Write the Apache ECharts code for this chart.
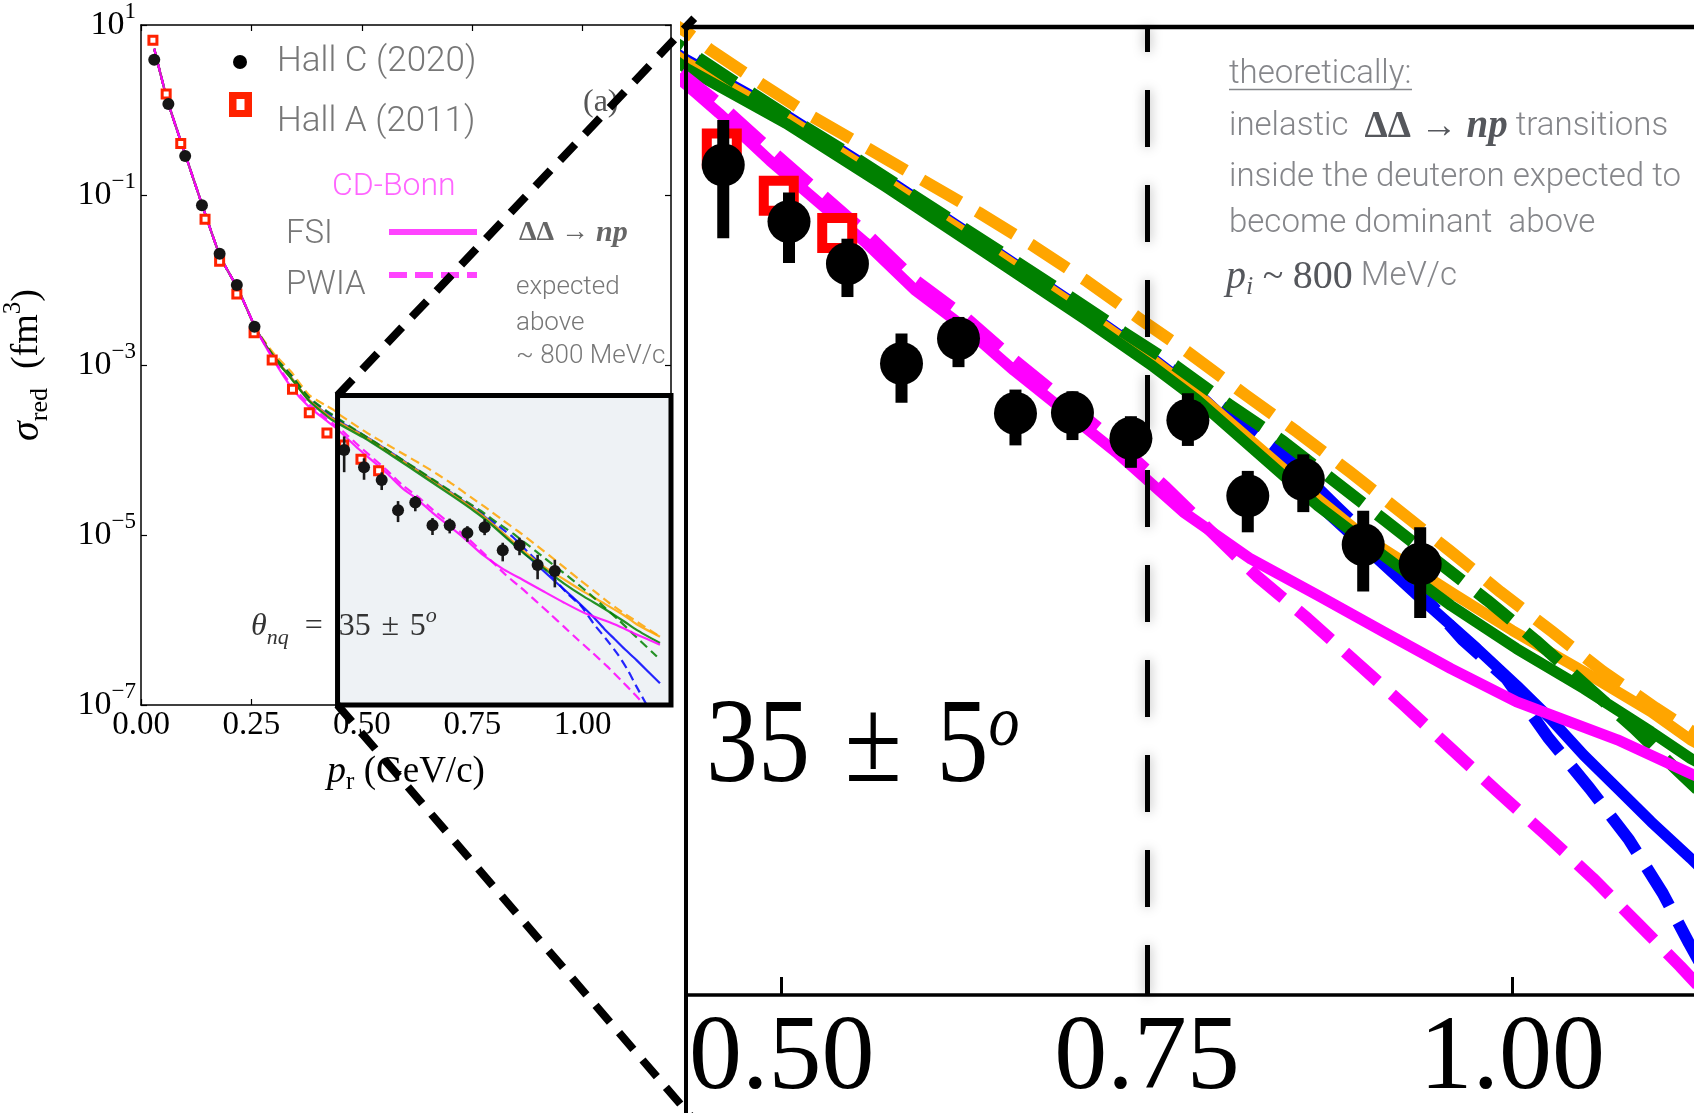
<!DOCTYPE html>
<html>
<head>
<meta charset="utf-8">
<script src="https://cdn.jsdelivr.net/npm/echarts@6/dist/echarts.min.js"></script>
<style>html,body{margin:0;padding:0;background:#fff;}#c{width:1694px;height:1113px;}</style>
</head>
<body>
<div id="c"></div>
<script>
// ---------------- DATA (sigma_red stored as log10 of fm^3 values) ----------------
// shared low-momentum part of all calculations
const pShared   = [0.03, 0.06, 0.10, 0.14, 0.18, 0.22, 0.26];
const logShared = [0.72, 0.11, -0.52, -1.14, -1.73, -2.11, -2.57];

// CD-Bonn FSI (magenta solid)
const pFsiCDB   = [0.30,0.34,0.38,0.42,0.435,0.457,0.492,0.557,0.591,0.626,0.659,0.693,0.729,0.775,0.821,0.867,0.912,0.958,1.003,1.072,1.122,1.175];
const logFsiCDB = [-2.94,-3.26,-3.49,-3.655,-3.715,-3.815,-3.985,-4.275,-4.445,-4.583,-4.733,-4.875,-5.025,-5.238,-5.405,-5.535,-5.665,-5.796,-5.915,-6.05,-6.17,-6.29];
// CD-Bonn PWIA (magenta dashed)
const pPwiaCDB   = [0.30,0.34,0.38,0.42,0.435,0.457,0.492,0.557,0.591,0.626,0.659,0.693,0.729,0.763,0.826,0.86,0.893,0.926,0.958,0.99,1.023,1.055,1.087,1.115,1.135];
const logPwiaCDB = [-2.93,-3.23,-3.46,-3.63,-3.69,-3.78,-3.945,-4.24,-4.41,-4.545,-4.695,-4.838,-4.99,-5.15,-5.47,-5.618,-5.772,-5.927,-6.081,-6.235,-6.389,-6.543,-6.71,-6.858,-6.97];
// blue solid / dashed
const pFsiB   = [0.30,0.34,0.38,0.42,0.435,0.503,0.571,0.640,0.708,0.754,0.784,0.821,0.878,0.935,0.976,1.003,1.026,1.049,1.072,1.095,1.122,1.175];
const logFsiB = [-2.90,-3.15,-3.41,-3.575,-3.625,-3.822,-4.047,-4.285,-4.522,-4.69,-4.81,-4.99,-5.262,-5.535,-5.725,-5.856,-5.974,-6.105,-6.223,-6.342,-6.472,-6.745];
const pPwiaB   = [0.30,0.34,0.38,0.42,0.435,0.474,0.511,0.549,0.586,0.623,0.66,0.697,0.734,0.77,0.806,0.843,0.88,0.916,0.966,0.996,1.025,1.053,1.08,1.103,1.121,1.145];
const logPwiaB = [-2.89,-3.12,-3.39,-3.55,-3.60,-3.74,-3.862,-3.984,-4.11,-4.235,-4.36,-4.485,-4.613,-4.74,-4.88,-5.03,-5.22,-5.40,-5.693,-5.832,-6.045,-6.223,-6.407,-6.597,-6.775,-7.0];
// orange solid / dashed
const pFsiO   = [0.30,0.34,0.38,0.42,0.435,0.503,0.571,0.640,0.708,0.754,0.784,0.867,0.90,0.96,1.00,1.05,1.095,1.122,1.175];
const logFsiO = [-2.90,-3.15,-3.41,-3.58,-3.635,-3.83,-4.055,-4.29,-4.527,-4.695,-4.815,-5.19,-5.33,-5.53,-5.66,-5.81,-5.95,-6.05,-6.196];
const pPwiaO   = [0.30,0.34,0.38,0.42,0.435,0.451,0.484,0.521,0.56,0.597,0.635,0.672,0.709,0.745,0.777,0.818,0.853,0.889,0.957,0.992,1.027,1.062,1.098,1.175];
const logPwiaO = [-2.86,-3.08,-3.35,-3.48,-3.526,-3.589,-3.704,-3.828,-3.944,-4.056,-4.170,-4.288,-4.415,-4.549,-4.664,-4.822,-4.953,-5.095,-5.375,-5.523,-5.663,-5.806,-5.936,-6.196];
// green solid / dashed
const pFsiG   = [0.30,0.34,0.38,0.42,0.435,0.503,0.571,0.640,0.708,0.754,0.784,0.867,0.912,0.958,1.003,1.049,1.095,1.122,1.175];
const logFsiG = [-2.91,-3.16,-3.42,-3.60,-3.656,-3.852,-4.077,-4.315,-4.552,-4.718,-4.836,-5.216,-5.393,-5.571,-5.725,-5.867,-6.021,-6.116,-6.27];
const pPwiaG   = [0.30,0.34,0.38,0.42,0.435,0.474,0.511,0.549,0.586,0.623,0.66,0.697,0.734,0.77,0.806,0.843,0.913,0.983,1.016,1.049,1.083,1.114,1.168];
const logPwiaG = [-2.89,-3.12,-3.38,-3.54,-3.591,-3.725,-3.849,-3.970,-4.095,-4.220,-4.344,-4.469,-4.597,-4.718,-4.854,-4.985,-5.268,-5.553,-5.695,-5.849,-6.007,-6.164,-6.43];

// Hall C (2020)
const hallCP     = [0.03,0.062,0.10,0.138,0.178,0.217,0.257,0.46,0.505,0.545,0.582,0.621,0.66,0.699,0.739,0.778,0.819,0.857,0.898,0.937];
const hallCLog   = [0.59,0.07,-0.54,-1.12,-1.69,-2.06,-2.55,-4.0,-4.202,-4.352,-4.708,-4.619,-4.886,-4.884,-4.975,-4.91,-5.18,-5.121,-5.354,-5.423];
const hallCErrLo = [null,null,null,null,null,null,null,-4.261,-4.350,-4.471,-4.848,-4.721,-5.0,-4.981,-5.080,-5.002,-5.31,-5.238,-5.521,-5.616];
const hallCErrHi = [null,null,null,null,null,null,null,-3.840,-4.098,-4.263,-4.601,-4.542,-4.801,-4.807,-4.896,-4.814,-5.091,-5.032,-5.233,-5.292];
// Hall A (2011)
const hallAP   = [0.027,0.057,0.09,0.145,0.178,0.217,0.256,0.297,0.343,0.381,0.421,0.459,0.498,0.538];
const hallALog = [0.82,0.188,-0.395,-1.284,-1.778,-2.165,-2.62,-2.94,-3.286,-3.563,-3.80,-3.941,-4.11,-4.243];

// axes / tick labels
const mainXTicks  = [0, 0.25, 0.5, 0.75, 1.0];
const mainYTicks  = [-7, -5, -3, -1, 1];
const insetXTicks = [0.5, 0.75, 1.0];
const mainXRange  = [0, 1.2];
const mainYRange  = [-7, 1];
const zoomBox     = [0.445, -3.36, 1.2, -7];   // x0, yTop, x1, yBottom (main axes)
const insetXRange = [0.4345, 1.1244];
const insetYRange = [-6.96, -3.508];
const markP       = 0.75;

// ---------------- CHART ----------------
const SERIF = "'Liberation Serif','DejaVu Serif',serif";
const SANS  = "Roboto,'Open Sans',sans-serif";
const C = {mag:'#ff00ff', blue:'#0000ff', green:'#008000', orange:'#ffa500'};

const chart = echarts.init(document.getElementById('c'), null, {renderer:'canvas', width:1694, height:1113});

function curveData(ps, ls) {
  return pShared.map((p,i)=>[p, logShared[i]]).concat(ps.map((p,i)=>[p, ls[i]]));
}
const curves = [
  ['blue FSI', pFsiB, logFsiB, C.blue, false],
  ['blue PWIA', pPwiaB, logPwiaB, C.blue, true],
  ['orange FSI', pFsiO, logFsiO, C.orange, false],
  ['orange PWIA', pPwiaO, logPwiaO, C.orange, true],
  ['green FSI', pFsiG, logFsiG, C.green, false],
  ['green PWIA', pPwiaG, logPwiaG, C.green, true],
  ['CD-Bonn FSI', pFsiCDB, logFsiCDB, C.mag, false],
  ['CD-Bonn PWIA', pPwiaCDB, logPwiaCDB, C.mag, true]
];
function curveSeries(c, inset) {
  return {
    type:'line', name:c[0], xAxisIndex: inset?2:0, yAxisIndex: inset?2:0,
    data: curveData(c[1], c[2]), showSymbol:false, symbol:'none', silent:true, clip:true,
    smooth: inset ? false : 0.2, z: 2,
    lineStyle:{color:c[3], opacity: inset?1:0.85, join:'round',
      width: inset ? (c[4]?12:11) : 2.2,
      type: c[4] ? (inset?[44,19]:[9,5]) : 'solid'}
  };
}
const hallC = hallCP.map((p,i)=>[p, hallCLog[i]]);
const hallA = hallAP.map((p,i)=>[p, hallALog[i]]);
const hallCErr = hallCP.map((p,i)=>[p, hallCErrLo[i], hallCErrHi[i]]).filter(d=>d[1]!==null);

function errSeries(inset) {
  return {
    type:'custom', name:'Hall C (2020) err', xAxisIndex: inset?2:0, yAxisIndex: inset?2:0,
    data: hallCErr, encode:{x:0, y:[1,2]}, clip:true, silent:true, z: 5,
    renderItem:(params, api)=>{
      const a = api.coord([api.value(0), api.value(1)]);
      const b = api.coord([api.value(0), api.value(2)]);
      return {type:'line', shape:{x1:a[0], y1:a[1], x2:b[0], y2:b[1]},
              style:{stroke: inset?'#000':'#1a1a1a', lineWidth: inset?12:2.6}};
    }
  };
}
function boxSeries(part) {
  return {
    type:'custom', name:'zoom box '+part, xAxisIndex:0, yAxisIndex:0, silent:true,
    data:[zoomBox], encode:{x:[0,2], y:[1,3]}, clip:false, z: part==='fill'?1:20,
    renderItem:(params, api)=>{
      const a = api.coord([api.value(0), api.value(1)]);
      const b = api.coord([api.value(2), api.value(3)]);
      const shape = {x:a[0], y:a[1], width:b[0]-a[0], height:b[1]-a[1]};
      return part==='fill'
        ? {type:'rect', shape, style:{fill:'#eef2f5'}}
        : {type:'rect', shape, style:{fill:'none', stroke:'#000', lineWidth:5}};
    }
  };
}

const supRich = {
  b:{fontFamily:SERIF, fontSize:34, color:'#000', lineHeight:50},
  s:{fontFamily:SERIF, fontSize:23, color:'#000', verticalAlign:'top', lineHeight:24}
};
const mainTickLine = {color:'#000', width:1.2};

const series = [boxSeries('fill')];
curves.forEach(c=>series.push(curveSeries(c,false)));
series.push({type:'scatter', name:'Hall A (2011)', xAxisIndex:0, yAxisIndex:0, data:hallA, symbol:'rect', symbolSize:8, z:4,
  itemStyle:{color:'#fff', borderColor:'#ff2200', borderWidth:3, opacity:1}, silent:true});
series.push(errSeries(false));
series.push({type:'scatter', name:'Hall C (2020)', xAxisIndex:0, yAxisIndex:0, data:hallC, symbol:'circle', symbolSize:12, z:6,
  itemStyle:{color:'#151515', opacity:1}, silent:true});
series.push(boxSeries('border'));
curves.forEach(c=>series.push(curveSeries(c,true)));
series.push({type:'scatter', name:'Hall A (2011)', xAxisIndex:2, yAxisIndex:2, data:hallA, symbol:'rect', symbolSize:30, z:4, clip:true,
  itemStyle:{color:'#fff', borderColor:'#ff0000', borderWidth:10, opacity:1}, silent:true,
  markLine:{silent:true, symbol:'none', animation:false, label:{show:false},
    lineStyle:{color:'#000', width:5, type:[57,38], dashOffset:7, shadowBlur:12, shadowColor:'rgba(0,0,0,0.35)'},
    data:[[{coord:[markP, insetYRange[0]]},{coord:[markP, insetYRange[1]]}]]}});
series.push(errSeries(true));
series.push({type:'scatter', name:'Hall C (2020)', xAxisIndex:2, yAxisIndex:2, data:hallC, symbol:'circle', symbolSize:43, z:6, clip:true,
  itemStyle:{color:'#000', opacity:1}, silent:true});

const option = {
  backgroundColor:'#fff',
  animation:false,
  grid:[
    {left:140, top:25, width:531, height:680},
    {left:686, top:27, right:0, height:970}
  ],
  xAxis:[
    {gridIndex:0, type:'value', min:mainXRange[0], max:mainXRange[1], position:'bottom',
     axisLine:{show:true, onZero:false, lineStyle:{color:'#000', width:1.5}},
     axisTick:{show:true, inside:true, length:6, customValues:mainXTicks, lineStyle:mainTickLine},
     axisLabel:{customValues:mainXTicks, formatter:v=>v.toFixed(2), fontFamily:SERIF, fontSize:33, color:'#000', margin:4},
     splitLine:{show:false},
     name:'{p|p}{r|r}{t| (GeV/c)}', nameLocation:'middle', nameGap:44,
     nameTextStyle:{rich:{
       p:{fontFamily:SERIF, fontStyle:'italic', fontSize:38, color:'#000', lineHeight:46},
       r:{fontFamily:SERIF, fontSize:25, color:'#000', verticalAlign:'bottom', lineHeight:28},
       t:{fontFamily:SERIF, fontSize:37, color:'#000', lineHeight:46}}}},
    {gridIndex:0, type:'value', min:mainXRange[0], max:mainXRange[1], position:'top',
     axisLine:{show:true, onZero:false, lineStyle:{color:'#000', width:1.5}},
     axisTick:{show:true, inside:true, length:6, customValues:mainXTicks, lineStyle:mainTickLine},
     axisLabel:{show:false}, splitLine:{show:false}},
    {gridIndex:1, type:'value', min:insetXRange[0], max:insetXRange[1], position:'bottom',
     axisLine:{show:true, onZero:false, lineStyle:{color:'#000', width:3.5}},
     axisTick:{show:true, inside:true, length:18, customValues:insetXTicks, lineStyle:{color:'#000', width:3}},
     axisLabel:{customValues:insetXTicks, formatter:v=>v.toFixed(2), fontFamily:SERIF, fontSize:106, color:'#000', margin:12},
     splitLine:{show:false}}
  ],
  yAxis:[
    {gridIndex:0, type:'value', min:mainYRange[0], max:mainYRange[1], position:'left',
     axisLine:{show:true, onZero:false, lineStyle:{color:'#000', width:1.5}},
     axisTick:{show:true, inside:true, length:6, customValues:mainYTicks, lineStyle:mainTickLine},
     axisLabel:{customValues:mainYTicks, margin:5, rich:supRich,
       formatter:v=>'{b|10}{s|'+(v<0?'\u2212':'')+Math.abs(v)+'}'},
     splitLine:{show:false},
     name:'{s|σ}{r|red}{p|  (fm}{e|3}{p|)}', nameLocation:'middle', nameGap:88, nameRotate:90,
     nameTextStyle:{rich:{
       s:{fontFamily:SERIF, fontStyle:'italic', fontSize:40, color:'#000', lineHeight:52},
       r:{fontFamily:SERIF, fontSize:26, color:'#000', verticalAlign:'bottom', lineHeight:30},
       p:{fontFamily:SERIF, fontSize:38, color:'#000', lineHeight:52},
       e:{fontFamily:SERIF, fontSize:25, color:'#000', verticalAlign:'top', lineHeight:26}}}},
    {gridIndex:0, type:'value', min:mainYRange[0], max:mainYRange[1], position:'right',
     axisLine:{show:true, onZero:false, lineStyle:{color:'#000', width:1.5}},
     axisTick:{show:true, inside:true, length:6, customValues:mainYTicks, lineStyle:mainTickLine},
     axisLabel:{show:false}, splitLine:{show:false}},
    {gridIndex:1, type:'value', min:insetYRange[0], max:insetYRange[1],
     axisLine:{show:false}, axisTick:{show:false}, axisLabel:{show:false}, splitLine:{show:false}}
  ],
  series
};
chart.setOption(option);

// ---------------- decorations (text & zoom connectors) ----------------
const b0 = chart.convertToPixel({gridIndex:0}, [zoomBox[0], zoomBox[1]]);
const b1 = chart.convertToPixel({gridIndex:0}, [zoomBox[0], zoomBox[3]]);
const iTL = chart.convertToPixel({gridIndex:1}, [insetXRange[0], insetYRange[1]]);
const H = 1113, W = 1694;
function extend(a, b, d) {
  const dx = b[0]-a[0], dy = b[1]-a[1], L = Math.hypot(dx, dy);
  return [b[0]+dx/L*d, b[1]+dy/L*d];
}
const up = extend(b0, iTL, 12);
const low = extend(b1, [iTL[0]+2, H], 12);

function T(x, y, text, size, fill, opts) {
  return Object.assign({type:'text', x, y, z:10, silent:true,
    style:{text, fontFamily:SANS, fontWeight:300, fontSize:size, fill, verticalAlign:'middle'}}, opts||{});
}
const mathRich = (sz, col) => ({
  d:{fontFamily:SERIF, fontWeight:'bold', fontSize:sz, fill:col, color:col},
  a:{fontFamily:SERIF, fontSize:sz, fill:col, color:col},
  m:{fontFamily:SERIF, fontStyle:'italic', fontWeight:'bold', fontSize:sz+2, fill:col, color:col}
});
const gray = '#777', agray = '#85868a', mgray = '#55575c';

const graphic = [
  // legend (left panel)
  {type:'circle', z:10, silent:true, shape:{cx:240, cy:62, r:7}, style:{fill:'#000'}},
  {type:'rect', z:10, silent:true, shape:{x:229, y:92, width:23, height:25}, style:{fill:'#ff2200'}},
  {type:'rect', z:11, silent:true, shape:{x:236.5, y:99, width:8, height:11}, style:{fill:'#fff'}},
  T(277, 62, 'Hall C (2020)', 35, gray),
  T(277, 122, 'Hall A (2011)', 35, gray),
  T(332, 187, 'CD-Bonn', 32, '#ff66ff'),
  T(286, 235, 'FSI', 33, gray),
  {type:'line', z:10, silent:true, shape:{x1:389, y1:232, x2:477, y2:232}, style:{stroke:'#ff44ff', lineWidth:6}},
  T(286, 286, 'PWIA', 33, gray),
  {type:'line', z:10, silent:true, shape:{x1:389, y1:275, x2:477, y2:275}, style:{stroke:'#ff44ff', lineWidth:6, lineDash:[18,8]}},
  {type:'text', x:519, y:233, z:10, silent:true, style:{text:'{d|ΔΔ}{a| → }{m|np}', rich:mathRich(28,'#666'), verticalAlign:'middle'}},
  T(516, 287, 'expected', 26, gray),
  T(516, 323, 'above', 26, gray),
  T(516, 356, '~ 800 MeV/c', 26, gray),
  {type:'text', x:583, y:103, z:10, silent:true, style:{text:'(a)', fontFamily:SERIF, fontSize:32, fill:'#555', verticalAlign:'middle'}},
  {type:'text', x:251, y:627, z:10, silent:true, style:{text:'{t|θ}{n|nq}{r|\u2002=\u200235\u2004±\u20045}{o|o}', verticalAlign:'middle',
    rich:{t:{fontFamily:SERIF, fontStyle:'italic', fontSize:32, fill:'#333', lineHeight:44},
          n:{fontFamily:SERIF, fontStyle:'italic', fontSize:22, fill:'#333', verticalAlign:'bottom', lineHeight:24},
          r:{fontFamily:SERIF, fontSize:32, fill:'#333', lineHeight:44},
          o:{fontFamily:SERIF, fontStyle:'italic', fontSize:22, fill:'#333', verticalAlign:'top', lineHeight:24}}}},
  // inset texts
  {type:'text', x:706, y:750, scaleY:1.15, z:10, silent:true, style:{text:'{r|35\u2004±\u20045}{o|o}', verticalAlign:'middle',
    rich:{r:{fontFamily:SERIF, fontSize:104, fill:'#000', lineHeight:104},
          o:{fontFamily:SERIF, fontStyle:'italic', fontSize:62, fill:'#000', verticalAlign:'top', lineHeight:44}}}},
  T(1229, 75, 'theoretically:', 33, agray),
  {type:'line', z:10, silent:true, shape:{x1:1229, y1:89.5, x2:1412, y2:89.5}, style:{stroke:agray, lineWidth:1.6}},
  {type:'text', x:1229, y:127, z:10, silent:true, style:{verticalAlign:'middle',
    text:'{s|inelastic  }{d|ΔΔ}{a| → }{m|np}{s| transitions}',
    rich:Object.assign({s:{fontFamily:SANS, fontWeight:300, fontSize:33, fill:agray, color:agray}}, mathRich(37, mgray))}},
  T(1229, 178, 'inside the deuteron expected to', 33, agray),
  T(1229, 224, 'become dominant  above', 33, agray),
  {type:'text', x:1226, y:277, z:10, silent:true, style:{verticalAlign:'middle',
    text:'{p|p}{i|i}{a| ~ }{n|800}{s| MeV/c}',
    rich:{p:{fontFamily:SERIF, fontStyle:'italic', fontSize:40, fill:mgray, lineHeight:46},
          i:{fontFamily:SERIF, fontStyle:'italic', fontSize:26, fill:mgray, verticalAlign:'bottom', lineHeight:28},
          a:{fontFamily:SERIF, fontSize:38, fill:mgray, lineHeight:46},
          n:{fontFamily:SERIF, fontSize:40, fill:mgray, lineHeight:46},
          s:{fontFamily:SANS, fontWeight:300, fontSize:33, fill:agray, lineHeight:46}}}},
  // inset frame (left & top), drawn above the curves
  {type:'line', z:30, silent:true, shape:{x1:iTL[0], y1:iTL[1]-2, x2:iTL[0], y2:H+5}, style:{stroke:'#000', lineWidth:4}},
  {type:'line', z:30, silent:true, shape:{x1:iTL[0]-2, y1:iTL[1], x2:W+5, y2:iTL[1]}, style:{stroke:'#000', lineWidth:4.5}},
  // zoom connectors
  {type:'line', z:31, silent:true, shape:{x1:b0[0], y1:b0[1], x2:up[0], y2:up[1]}, style:{stroke:'#000', lineWidth:8, lineDash:[22,14]}},
  {type:'line', z:31, silent:true, shape:{x1:b1[0], y1:b1[1], x2:low[0], y2:low[1]}, style:{stroke:'#000', lineWidth:8, lineDash:[22,14]}}
];
chart.setOption({graphic});
</script>
</body>
</html>
